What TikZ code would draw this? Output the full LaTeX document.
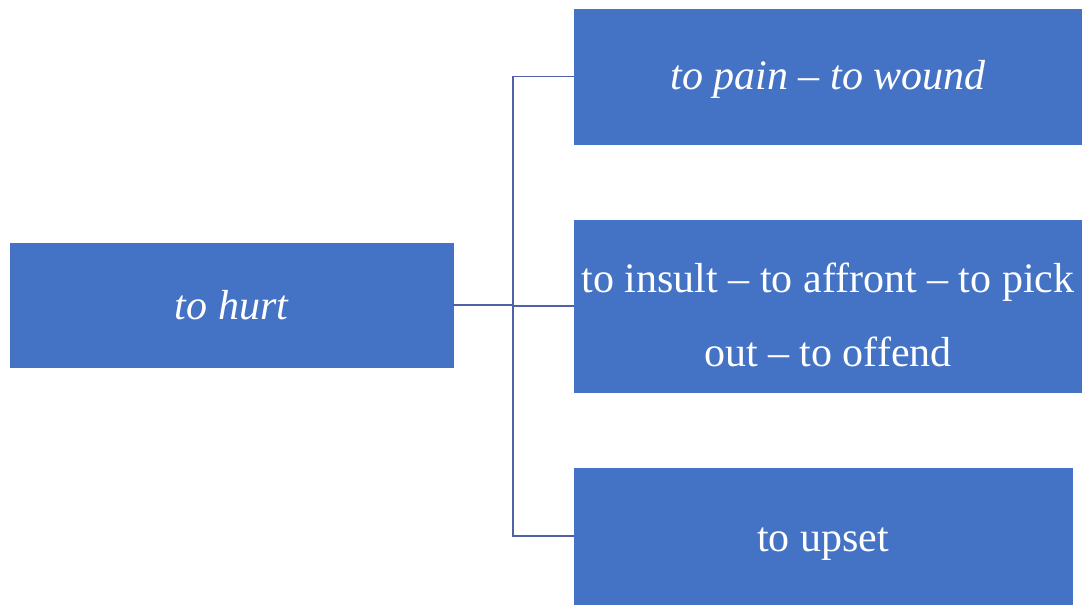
\documentclass[tikz,border=0pt]{standalone}
\usepackage{fontspec}
\setmainfont{Liberation Serif}
\definecolor{boxblue}{HTML}{4472C4}
\definecolor{linkblue}{HTML}{4F62A6}
\begin{document}
\begin{tikzpicture}[x=0.75pt,y=-0.75pt,
  wordbox/.style={rectangle, fill=boxblue, draw=boxblue, line width=0.4pt, inner sep=0pt,
    text=white, align=center, font=\fontsize{31.5pt}{55.5pt}\selectfont},
  link/.style={draw=linkblue, line width=1.4pt}]
\useasboundingbox (0,0) rectangle (1082,604);
\node[wordbox, minimum width=332.25pt, minimum height=93pt] (hurt) at (231.5,305) {\itshape to hurt};
\node[wordbox, minimum width=381pt, minimum height=101.25pt] (pain) at (828,76.5) {\rule{0pt}{26pt}\itshape to pain -- to wound};
\node[wordbox, minimum width=381pt, minimum height=129pt] (insult) at (828,306) {\rule{0pt}{35pt}to insult -- to affront -- to pick\\out -- to offend};
\node[wordbox, minimum width=373.5pt, minimum height=102pt] (upset) at (823,536) {\rule{0pt}{30pt}to upset};
\coordinate (j) at (513,305);
\draw[link] (hurt.east) -- (j);
\draw[link] (j) |- (pain.west);
\draw[link] (j) |- (insult.west);
\draw[link] (j) |- (upset.west);
\end{tikzpicture}
\end{document}
